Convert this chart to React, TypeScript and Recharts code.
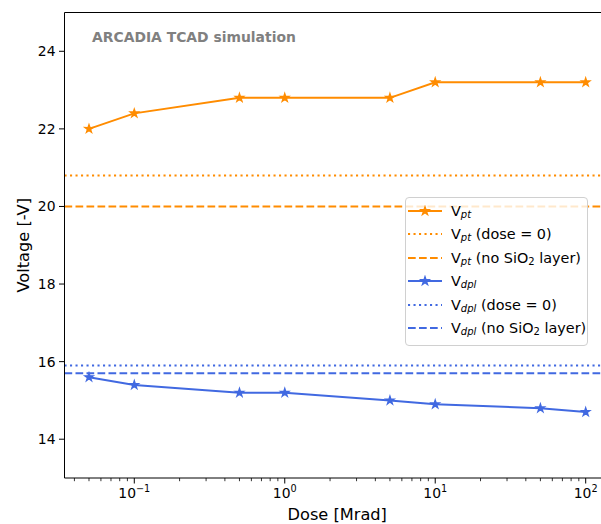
import React from "react";
import { LineChart, Line, XAxis, YAxis, ReferenceLine, Legend, Label } from "recharts";

// dose [Mrad] and punch-through / depletion voltages [-V]
const doses = [0.05, 0.1, 0.5, 1, 5, 10, 50, 100];
const vPt = [22.0, 22.4, 22.8, 22.8, 22.8, 23.2, 23.2, 23.2];
const vDpl = [15.6, 15.4, 15.2, 15.2, 15.0, 14.9, 14.8, 14.7];

const vPtDose0 = 20.8;
const vPtNoSiO2 = 20.0;
const vDplDose0 = 15.9;
const vDplNoSiO2 = 15.7;

const yTicks = [14, 16, 18, 20, 22, 24];
const majorX = [0.1, 1, 10, 100];
const majorXExp = ["\u22121", "0", "1", "2"];

const ORANGE = "#ff8c00";
const BLUE = "#4169e1";
const FONT = "'DejaVu Sans', sans-serif";

// axes run past the right edge of the picture
const X_MIN = Math.pow(10, -1.4638);
const X_MAX = Math.pow(10, 2.1615);

const minorX: number[] = [];
[0.01, 0.1, 1, 10, 100].forEach((d) => {
  for (let m = 2; m <= 9; m++) {
    const v = +(d * m).toPrecision(3);
    if (v > X_MIN && v < X_MAX) minorX.push(v);
  }
});
const xTicks = [...majorX, ...minorX].sort((a, b) => a - b);

const data = doses.map((dose, i) => ({ dose, vpt: vPt[i], vdpl: vDpl[i] }));

const DOTTED = "2.1 3.4";
const DASHED = "7.7 3.3";

function starPoints(cx: number, cy: number, R = 4.2, r = 1.6) {
  const pts: string[] = [];
  for (let k = 0; k < 10; k++) {
    const a = -Math.PI / 2 + (k * Math.PI) / 5;
    const rad = k % 2 === 0 ? R : r;
    pts.push(`${cx + rad * Math.cos(a)},${cy + rad * Math.sin(a)}`);
  }
  return pts.join(" ");
}

const makeStar = (color: string) => (props: any) => {
  const { cx, cy, index } = props;
  if (cx == null || cy == null) return <g key={index} />;
  return (
    <polygon key={index} points={starPoints(cx, cy)} fill={color} stroke={color} strokeWidth={1.4} strokeLinejoin="miter" />
  );
};

const XTick = (props: any) => {
  const { x, y, payload } = props;
  const i = majorX.indexOf(payload.value);
  const major = i >= 0;
  return (
    <g>
      <line x1={x} x2={x} y1={y} y2={y + (major ? 5.5 : 3.2)} stroke="#000" strokeWidth={major ? 1 : 0.8} />
      {major && (
        <text x={x} y={y + 20} textAnchor="middle" fontSize={13.9} fontFamily={FONT} fill="#000">
          10
          <tspan dy={-6} fontSize={9.7}>
            {majorXExp[i]}
          </tspan>
        </text>
      )}
    </g>
  );
};

const YTick = (props: any) => {
  const { x, y, payload } = props;
  return (
    <g>
      <line x1={x - 5.5} x2={x} y1={y} y2={y} stroke="#000" strokeWidth={1} />
      <text x={x - 9} y={y + 5} textAnchor="end" fontSize={13.9} fontFamily={FONT} fill="#000">
        {payload.value}
      </text>
    </g>
  );
};

const sub = (s: string, italic = true) => (
  <sub style={{ fontSize: 10, fontStyle: italic ? "italic" : "normal", verticalAlign: "-2px", lineHeight: 0 }}>{s}</sub>
);

const legendRows = [
  { color: ORANGE, dash: undefined, star: true, label: <>V{sub("pt")}</> },
  { color: ORANGE, dash: DOTTED, star: false, label: <>V{sub("pt")} (dose = 0)</> },
  { color: ORANGE, dash: DASHED, star: false, label: <>V{sub("pt")} (no SiO{sub("2", false)} layer)</> },
  { color: BLUE, dash: undefined, star: true, label: <>V{sub("dpl")}</> },
  { color: BLUE, dash: DOTTED, star: false, label: <>V{sub("dpl")} (dose = 0)</> },
  { color: BLUE, dash: DASHED, star: false, label: <>V{sub("dpl")} (no SiO{sub("2", false)} layer)</> },
];

const LegendBox = () => (
  <div
    style={{
      width: 181,
      padding: "1px 0 5px 0",
      border: "1px solid #d0d0d0",
      borderRadius: 4,
      background: "rgba(255,255,255,0.8)",
      fontFamily: FONT,
      fontSize: 14.4,
      color: "#000",
    }}
  >
    {legendRows.map((r, i) => (
      <div key={i} style={{ height: 23.5, display: "flex", alignItems: "center", whiteSpace: "nowrap" }}>
        <svg width={34} height={12} style={{ marginLeft: 2, marginRight: 9, flex: "none" }}>
          <line x1={0} x2={34} y1={6} y2={6} stroke={r.color} strokeWidth={2} strokeDasharray={r.dash} />
          {r.star && <polygon points={starPoints(17, 6)} fill={r.color} stroke={r.color} strokeWidth={1.4} />}
        </svg>
        <span>{r.label}</span>
      </div>
    ))}
  </div>
);

export default function App() {
  return (
    <div
      style={{
        position: "absolute",
        left: 0,
        top: 0,
        width: 601,
        height: 524,
        overflow: "hidden",
        background: "#fff",
        fontFamily: FONT,
      }}
    >
      <LineChart width={620} height={524} data={data} margin={{ top: 12.5, right: 10, bottom: 0, left: 0 }}>
        <XAxis
          type="number"
          dataKey="dose"
          scale="log"
          domain={[X_MIN, X_MAX]}
          allowDataOverflow
          ticks={xTicks}
          interval={0}
          tick={<XTick />}
          tickSize={0}
          tickMargin={0}
          tickLine={false}
          height={46}
          axisLine={{ stroke: "#000", strokeWidth: 1 }}
        >
          <Label
            value="Dose [Mrad]"
            position="insideBottom"
            offset={4}
            fontSize={16.2}
            fontFamily={FONT}
            fill="#000"
            style={{ fontSize: 16.2, fontFamily: FONT, fill: "#000" }}
          />
        </XAxis>
        <YAxis
          type="number"
          domain={[13, 25]}
          allowDataOverflow
          ticks={yTicks}
          interval={0}
          tick={<YTick />}
          tickSize={0}
          tickMargin={0}
          tickLine={false}
          width={64.5}
          axisLine={{ stroke: "#000", strokeWidth: 1 }}
        >
          <Label
            value="Voltage [-V]"
            angle={-90}
            position="insideLeft"
            offset={23}
            fontSize={16.2}
            fontFamily={FONT}
            fill="#000"
            style={{ fontSize: 16.2, fontFamily: FONT, fill: "#000", textAnchor: "middle" }}
          />
        </YAxis>
        <ReferenceLine y={25} stroke="#000" strokeWidth={1} />
        <ReferenceLine y={vPtDose0} stroke={ORANGE} strokeWidth={2} strokeDasharray={DOTTED} />
        <ReferenceLine y={vPtNoSiO2} stroke={ORANGE} strokeWidth={2} strokeDasharray={DASHED} />
        <ReferenceLine y={vDplDose0} stroke={BLUE} strokeWidth={2} strokeDasharray={DOTTED} />
        <ReferenceLine y={vDplNoSiO2} stroke={BLUE} strokeWidth={2} strokeDasharray={DASHED} />
        <Line
          type="linear"
          dataKey="vpt"
          stroke={ORANGE}
          strokeWidth={2}
          dot={makeStar(ORANGE)}
          activeDot={false}
          isAnimationActive={false}
        />
        <Line
          type="linear"
          dataKey="vdpl"
          stroke={BLUE}
          strokeWidth={2}
          dot={makeStar(BLUE)}
          activeDot={false}
          isAnimationActive={false}
        />
        <Legend
          layout="vertical"
          align="center"
          verticalAlign="middle"
          content={<LegendBox />}
          wrapperStyle={{ left: 405, top: 197, width: 183 }}
        />
      </LineChart>
      <svg width={601} height={524} style={{ position: "absolute", left: 0, top: 0, pointerEvents: "none" }}>
        <text x={92} y={41.5} fontFamily={FONT} fontWeight="bold" fontSize={13.9} fill="#808080">
          ARCADIA TCAD simulation
        </text>
      </svg>
    </div>
  );
}
